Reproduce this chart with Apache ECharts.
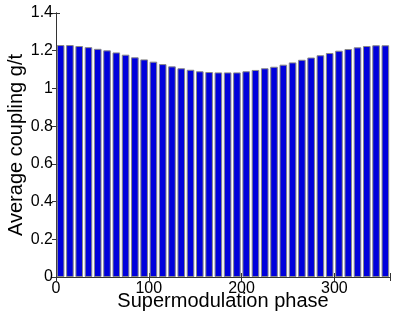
<!DOCTYPE html>
<html>
<head>
<meta charset="utf-8">
<script src="https://cdn.jsdelivr.net/npm/echarts@6/dist/echarts.min.js"></script>
<style>html,body{margin:0;padding:0;background:#fff;}#c{width:395px;height:314px;}</style>
</head>
<body>
<div id="c"></div>
<script>
var phases = [5,15,25,35,45,55,65,75,85,95,105,115,125,135,145,155,165,175,185,195,205,215,225,235,245,255,265,275,285,295,305,315,325,335,345,355];
var coupling = [1.230,1.230,1.225,1.219,1.210,1.202,1.191,1.179,1.165,1.154,1.142,1.129,1.117,1.107,1.099,1.091,1.087,1.085,1.085,1.085,1.091,1.098,1.107,1.115,1.126,1.138,1.152,1.164,1.176,1.188,1.200,1.209,1.218,1.225,1.229,1.229];
var xTicks = [0,100,200,300];
var yTicks = [0,0.2,0.4,0.6,0.8,1,1.2,1.4];
var xTitle = 'Supermodulation phase';
var yTitle = 'Average coupling g/t';

var data = phases.map(function(p,i){return [p, coupling[i]];});
var font = 'Liberation Sans, Arial, sans-serif';
var axisCol = '#333';
var chart = echarts.init(document.getElementById('c'), null, {renderer:'canvas'});
chart.setOption({
  animation:false,
  backgroundColor:'#fff',
  grid:{left:56, right:5, top:13, bottom:37, containLabel:false, outerBoundsMode:'none'},
  xAxis:[{
    type:'value', min:0, max:360, interval:100,
    name:xTitle, nameLocation:'middle', nameGap:14, nameMoveOverlap:false,
    nameTextStyle:{fontFamily:font, fontSize:20, color:'#000'},
    axisLine:{show:true, lineStyle:{color:axisCol}},
    axisTick:{show:true, inside:true, length:4, lineStyle:{color:axisCol}},
    axisLabel:{fontFamily:font, fontSize:16, color:'#000', margin:4,
      formatter:function(v){return xTicks.indexOf(v)>=0? String(v):'';}},
    splitLine:{show:false}
  },{
    type:'value', min:0, max:360, interval:100, position:'top',
    axisLine:{show:true, lineStyle:{color:axisCol}},
    axisTick:{show:true, inside:true, length:4, lineStyle:{color:axisCol}},
    axisLabel:{show:false}, splitLine:{show:false}
  }],
  yAxis:[{
    type:'value', min:0, max:1.4, interval:0.2,
    name:yTitle, nameLocation:'middle', nameGap:30, nameMoveOverlap:false,
    nameTextStyle:{fontFamily:font, fontSize:20, color:'#000'},
    axisLine:{show:true, lineStyle:{color:axisCol}},
    axisTick:{show:true, inside:true, length:4, lineStyle:{color:axisCol}},
    axisLabel:{fontFamily:font, fontSize:16, color:'#000', margin:3,
      formatter:function(v){var r=Math.round(v*10)/10; return yTicks.indexOf(r)>=0? String(r):'';}},
    splitLine:{show:false}
  },{
    type:'value', min:0, max:1.4, interval:0.2, position:'right',
    axisLine:{show:true, lineStyle:{color:axisCol}},
    axisTick:{show:true, inside:true, length:4, lineStyle:{color:axisCol}},
    axisLabel:{show:false}, splitLine:{show:false}
  }],
  series:[{
    type:'bar', xAxisIndex:0, yAxisIndex:0,
    data:data, barWidth:7.6,
    itemStyle:{color:'#0000dc', borderColor:'#888', borderWidth:1}
  }]
});
</script>
</body>
</html>
